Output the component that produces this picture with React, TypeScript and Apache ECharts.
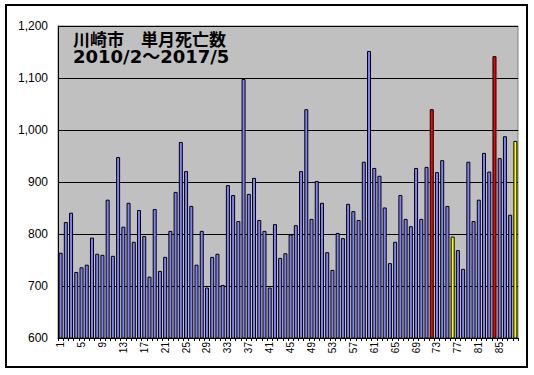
import React, { useEffect, useRef } from "react";
import * as echarts from "echarts";

const categories = [
  "1","2","3","4","5","6","7","8","9","10","11","12","13","14","15","16","17","18","19","20","21","22",
  "23","24","25","26","27","28","29","30","31","32","33","34","35","36","37","38","39","40","41","42","43","44",
  "45","46","47","48","49","50","51","52","53","54","55","56","57","58","59","60","61","62","63","64","65","66",
  "67","68","69","70","71","72","73","74","75","76","77","78","79","80","81","82","83","84","85","86","87","88",
];

const deaths = [
  764, 823, 841, 727, 736, 741, 793, 762, 760, 866, 758, 948,
  814, 860, 785, 846, 796, 718, 848, 729, 756, 806, 881, 977,
  921, 854, 741, 806, 697, 756, 762, 702, 894, 875, 825, 1098,
  877, 908, 827, 806, 697, 819, 754, 763, 799, 817, 921, 1040,
  829, 902, 860, 765, 731, 802, 792, 858, 844, 827, 939, 1152,
  927, 912, 851, 744, 785, 875, 829, 815, 927, 829, 929, 1040,
  919, 942, 854, 795, 769, 733, 939, 825, 866, 956, 920, 1142,
  946, 988, 837, 979,
];

// 1-based bar numbers that are highlighted
const redBars = [72, 84];
const yellowBars = [76, 88];

const titleLine1 = "川崎市　単月死亡数";
const titleLine2 = "2010/2～2017/5";

const yTicks = { min: 600, max: 1200, interval: 100 };

export default function App() {
  const ref = useRef<HTMLDivElement>(null);
  useEffect(() => {
    if (!ref.current) return;
    const chart = echarts.init(ref.current, null, { renderer: "svg" });
    const data = deaths.map((v, i) => {
      const n = i + 1;
      let color = "#8080FF";
      if (redBars.includes(n)) color = "#FF0000";
      if (yellowBars.includes(n)) color = "#FFFF00";
      return { value: v, itemStyle: { color, borderColor: "#000", borderWidth: 1 } };
    });
    chart.setOption({
      animation: false,
      backgroundColor: "#ffffff",
      grid: {
        left: 58,
        top: 26,
        right: 16,
        bottom: 37,
        show: true,
        backgroundColor: "#C0C0C0",
        borderColor: "#808080",
        borderWidth: 1,
      },
      xAxis: {
        type: "category",
        data: categories,
        boundaryGap: true,
        axisLine: { show: true, lineStyle: { color: "#000", width: 1 } },
        axisTick: { show: true, interval: 0, length: 3, lineStyle: { color: "#000" } },
        axisLabel: {
          interval: 3,
          rotate: 90,
          margin: 4,
          fontSize: 10,
          color: "#000",
          fontFamily: "'Liberation Sans', Arial, sans-serif",
        },
        splitLine: { show: false },
      },
      yAxis: {
        type: "value",
        min: yTicks.min,
        max: yTicks.max,
        interval: yTicks.interval,
        axisLine: { show: true, lineStyle: { color: "#000", width: 1 } },
        axisTick: { show: false },
        axisLabel: {
          margin: 10,
          fontSize: 12,
          color: "#000",
          fontFamily: "'Liberation Sans', Arial, sans-serif",
          formatter: (v: number) => v.toLocaleString("en-US"),
        },
        splitLine: { show: true, lineStyle: { color: "#000", width: 1 } },
      },
      series: [
        {
          type: "bar",
          data,
          barWidth: 4,
        },
      ],
      graphic: [
        {
          type: "rect",
          shape: { x: 6, y: 5, width: 521, height: 362 },
          style: { fill: "none", stroke: "#000", lineWidth: 2 },
          z: 100,
          silent: true,
        },
        {
          type: "text",
          left: 73,
          top: 30,
          z: 100,
          style: {
            text: `{a|${titleLine1}}\n{b|${titleLine2}}`,
            fill: "#000",
            rich: {
              a: {
                fontFamily: "'Noto Sans CJK JP', sans-serif",
                fontWeight: "bold",
                fontSize: 17,
                lineHeight: 18,
                fill: "#000",
              },
              b: {
                fontFamily: "'DejaVu Sans', 'Noto Sans CJK JP', sans-serif",
                fontWeight: "bold",
                fontSize: 18,
                lineHeight: 18,
                fill: "#000",
              },
            },
          },
        },
      ],
    });
    return () => chart.dispose();
  }, []);
  return (
    <div
      ref={ref}
      style={{ position: "absolute", left: 0, top: 0, width: 534, height: 375 }}
    />
  );
}
